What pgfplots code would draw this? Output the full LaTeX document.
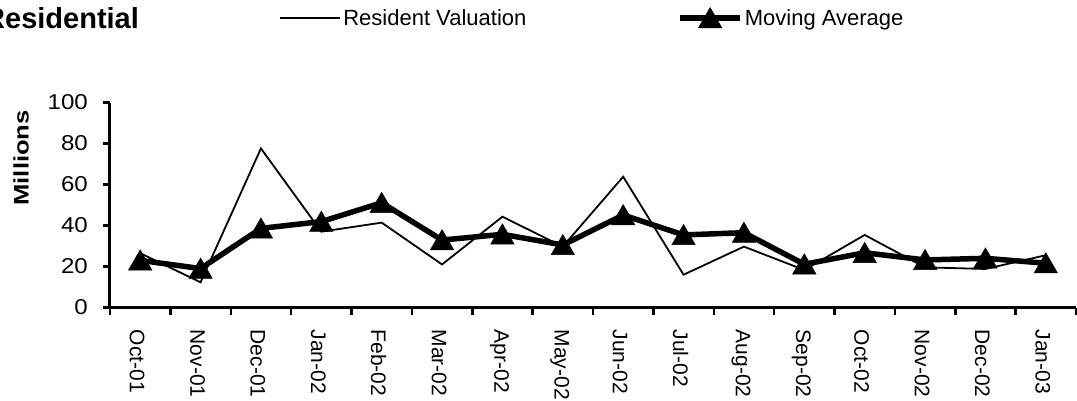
\documentclass[border=0pt]{standalone}
\usepackage{pgfplots}
\pgfplotsset{compat=1.18}
\usepackage{fontspec}
\setmainfont{Liberation Sans}
\pgfplotstableread{
x res mov
0 26.5 23.0
1 12.3 19.0
2 77.6 38.6
3 37.0 41.9
4 41.4 51.1
5 21.0 32.9
6 44.3 35.7
7 29.7 30.5
8 63.8 45.1
9 16.0 35.4
10 29.7 36.5
11 18.3 21.1
12 35.4 26.7
13 19.6 23.2
14 18.8 24.0
15 25.5 21.6
}\datatable
\begin{document}
\begin{tikzpicture}[x=1pt,y=1pt]
\useasboundingbox (0,0) rectangle (1077,-400);
\clip (0,0) rectangle (1077,-400);
\begin{axis}[
  at={(110pt,-307.5pt)}, anchor=south west,
  width=966pt, height=205pt, scale only axis,
  xmin=-0.5, xmax=15.5, ymin=0, ymax=100,
  axis lines=left,
  axis line style={line width=3pt, -},
  tick align=outside,
  major tick length=7pt,
  tick style={line width=2.5pt, black},
  xtick={-0.5,0.5,...,15.5},
  x tick label as interval,
  xticklabels={Oct-01,Nov-01,Dec-01,Jan-02,Feb-02,Mar-02,Apr-02,May-02,Jun-02,Jul-02,Aug-02,Sep-02,Oct-02,Nov-02,Dec-02,Jan-03},
  x tick label style={yshift=-15pt, xshift=-3pt, rotate=-90, anchor=west, font=\fontsize{21}{25}\selectfont, inner sep=0pt},
  ytick={0,20,...,100},
  yticklabel={\scalebox{1.12}[1]{\pgfmathprintnumber{\tick}}},
  /pgf/number format/assume math mode=true,
  y tick label style={font=\fontsize{21.5}{25}\selectfont, inner sep=0pt, xshift=-15pt},
  ylabel={\scalebox{1.22}[1]{\bfseries Millions}},
  ylabel style={at={(axis description cs:-0.092,0.73)}, anchor=center, rotate=0, font=\fontsize{21}{25}\selectfont},
  legend columns=2,
  legend style={at={(axis description cs:0.1755,1.412)}, anchor=west, draw=none, fill=none,
    inner sep=0pt, outer sep=0pt, font=\fontsize{22}{26}\selectfont,
    /tikz/every even column/.append style={column sep=149pt}},
  legend cell align=left,
  legend image code/.code={\draw[mark repeat=2,mark phase=2,#1] plot coordinates {(0pt,0pt) (30pt,0pt) (60pt,0pt)};},
  clip=false,
]
\addplot[black, line width=1.8pt] table[x=x, y=res] {\datatable};
\addlegendentry{Resident Valuation}
\addplot[black, line width=5.5pt, mark=triangle*, mark size=13.5pt, mark options={solid, line width=0.5pt, yshift=-3pt}] table[x=x, y=mov] {\datatable};
\addlegendentry{Moving Average}
\end{axis}
\node[anchor=base west, inner sep=0pt, font=\bfseries\fontsize{29}{34}\selectfont] at (-16,-28) {Residential};
\end{tikzpicture}
\end{document}
